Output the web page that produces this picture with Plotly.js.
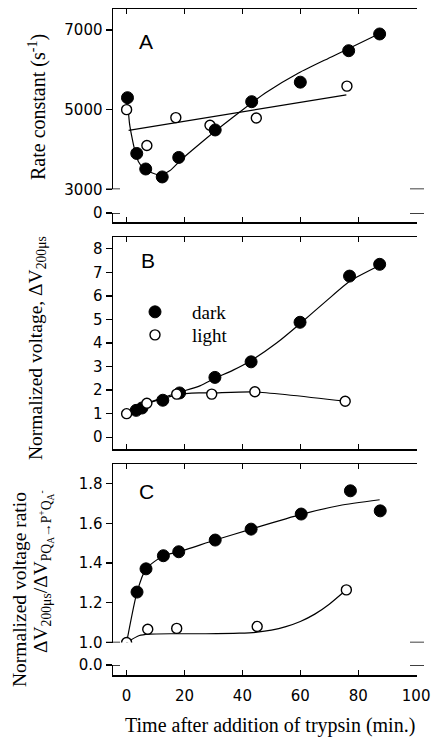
<!DOCTYPE html>
<html>
<head>
<meta charset="utf-8">
<script src="https://cdn.plot.ly/plotly-3.0.1.min.js"></script>
<style>html,body{margin:0;padding:0;background:#fff;}#chart{width:431px;height:738px;}</style>
</head>
<body>
<div id="chart"></div>
<script>
// ---------------- data ----------------
// Panel A: rate constant (s^-1)
const aDarkT = [0.3, 3.5, 6.6, 12.3, 18, 30.6, 43.2, 60, 76.7, 87.4];
const aDarkV = [5300, 3900, 3510, 3310, 3800, 4490, 5200, 5690, 6480, 6900];
const aLightT = [0, 7, 17, 28.8, 44.8, 76.1];
const aLightV = [5000, 4100, 4800, 4610, 4790, 5590];
const aDarkFitT = [0.3, 1.0, 1.8, 2.8, 4.1, 5.9, 8.7, 11.6, 15, 18, 21, 24.9, 30.6, 36.4, 43.2, 47.9, 59.4, 70.9, 87.4];
const aDarkFitV = [5250, 4657, 4321, 3987, 3693, 3527, 3417, 3360, 3470, 3680, 3880, 4120, 4460, 4790, 5170, 5420, 5920, 6330, 6910];
const aLightFitT = [0.7, 75.9];
const aLightFitV = [4480, 5370];

// Panel B: normalized voltage dV200us
const bDarkT = [3.3, 5.3, 12.5, 18.3, 30.5, 43, 59.9, 77, 87.4];
const bDarkV = [1.14, 1.24, 1.57, 1.88, 2.54, 3.2, 4.88, 6.84, 7.34];
const bLightT = [0, 7, 17.3, 29.4, 44.3, 75.5];
const bLightV = [1.0, 1.44, 1.83, 1.83, 1.93, 1.53];
const bDarkFitT = [0, 4.1, 11.1, 18, 25.3, 30.5, 36.8, 42.9, 51.8, 59.9, 69.1, 77.2, 87.5];
const bDarkFitV = [1.0, 1.3, 1.62, 1.9, 2.18, 2.5, 2.85, 3.25, 4.0, 4.82, 5.8, 6.63, 7.3];
const bLightFitT = [0, 7, 17.3, 25, 29.4, 44.3, 75.5];
const bLightFitV = [1.0, 1.42, 1.8, 1.88, 1.88, 1.92, 1.53];

// Panel C: normalized voltage ratio
const cDarkT = [3.6, 6.7, 12.7, 18, 30.6, 43, 60.3, 77.3, 87.6];
const cDarkV = [1.254, 1.371, 1.437, 1.457, 1.516, 1.571, 1.647, 1.764, 1.663];
const cLightT = [0, 7.3, 17.3, 45.1, 75.9];
const cLightV = [1.0, 1.067, 1.071, 1.081, 1.265];
const cDarkFitT = [0, 3.6, 6.7, 12.7, 18, 30.6, 43, 60.3, 73.6, 87.4];
const cDarkFitV = [1.0, 1.254, 1.371, 1.437, 1.457, 1.516, 1.571, 1.645, 1.69, 1.719];
const cLightFitT = [0, 4.4, 7.8, 15.9, 27.4, 39, 45.1, 50, 55, 60, 65, 70, 75.6];
const cLightFitV = [1.0, 1.035, 1.042, 1.044, 1.044, 1.047, 1.052, 1.062, 1.08, 1.106, 1.143, 1.193, 1.262];

// tick labels
const xTicks = [0, 20, 40, 60, 80, 100];
const aTicks = [3000, 5000, 7000];
const bTicks = [0, 1, 2, 3, 4, 5, 6, 7, 8];
const cTicks = [1.0, 1.2, 1.4, 1.6, 1.8];
const legendNames = ['dark', 'light'];

// ---------------- layout helpers ----------------
const W = 431, Hh = 738, ML = 113, MR = 14, MT = 9, MB = 63;
const PB = Hh - MB, PH = Hh - MT - MB, PW = W - ML - MR;
const fy = p => (PB - p) / PH;       // pixel row -> paper fraction
const fx = p => (p - ML) / PW;       // pixel col -> paper fraction
const xr = [-4.7, 100.3];

const black = '#000';
const sans = {family: 'DejaVu Sans, Arial, sans-serif', size: 15, color: black};
const serif = 'Liberation Serif, Times New Roman, serif';

function ax(extra) {
  return Object.assign({
    showgrid: false, zeroline: false, showline: true, linecolor: black, linewidth: 1.5,
    tickcolor: black, tickwidth: 1.3, tickfont: sans, fixedrange: true
  }, extra);
}

const lineStyle = {color: black, width: 1.2, shape: 'spline', smoothing: 0.6};
const darkMarker = {symbol: 'circle', size: 12, color: black, line: {color: black, width: 1}};
const lightMarkerFill = {symbol: 'circle', size: 10, color: '#fff', line: {color: black, width: 1.4}};

function fit(t, v, xa, ya) {
  return {x: t, y: v, xaxis: xa, yaxis: ya, mode: 'lines', line: lineStyle, showlegend: false, hoverinfo: 'skip'};
}
function pts(t, v, xa, ya, marker, name, legendId) {
  const tr = {x: t, y: v, xaxis: xa, yaxis: ya, mode: 'markers', marker: marker, name: name, showlegend: !!legendId, hoverinfo: 'skip'};
  if (legendId) tr.legend = legendId;
  return tr;
}

const traces = [
  fit(aDarkFitT, aDarkFitV, 'x', 'y'),
  fit(aLightFitT, aLightFitV, 'x', 'y'),
  pts(aLightT, aLightV, 'x', 'y', lightMarkerFill, legendNames[1]),
  pts(aDarkT, aDarkV, 'x', 'y', darkMarker, legendNames[0]),

  fit(bDarkFitT, bDarkFitV, 'x3', 'y5'),
  fit(bLightFitT, bLightFitV, 'x3', 'y5'),
  pts(bDarkT, bDarkV, 'x3', 'y5', darkMarker, legendNames[0], 'legend'),
  pts(bLightT, bLightV, 'x3', 'y5', lightMarkerFill, legendNames[1], 'legend2'),

  fit(cDarkFitT, cDarkFitV, 'x4', 'y7'),
  fit(cLightFitT, cLightFitV, 'x4', 'y7'),
  pts(cLightT, cLightV, 'x4', 'y7', lightMarkerFill, legendNames[1]),
  pts(cDarkT, cDarkV, 'x4', 'y7', darkMarker, legendNames[0])
];

const dAup = [fy(189.3), fy(MT)];
const dAlo = [fy(222), fy(213)];
const dB = [fy(449), fy(237)];
const dCup = [fy(642.5), fy(464)];
const dClo = [0, fy(665)];

const capHalf = 7 / PW;
function caps(yref, yv) {
  return [
    {type: 'line', xref: 'paper', yref: yref, x0: -capHalf, x1: capHalf, y0: yv, y1: yv, line: {color: black, width: 1.5}},
    {type: 'line', xref: 'paper', yref: yref, x0: 1 - capHalf, x1: 1 + capHalf, y0: yv, y1: yv, line: {color: black, width: 1.5}}
  ];
}

function note(text, px, py, size, family, angle) {
  return {text: text, xref: 'paper', yref: 'paper', x: fx(px), y: fy(py), xanchor: 'center', yanchor: 'middle',
          textangle: angle || 0, showarrow: false, font: {family: family, size: size, color: black}};
}
const letterFont = 'Liberation Sans, Arial, sans-serif';
const legendStyle = {xanchor: 'left', yanchor: 'top', bgcolor: 'rgba(0,0,0,0)',
                     font: {family: serif, size: 19, color: black}, itemwidth: 64, tracegroupgap: 0};

const layout = {
  width: W, height: Hh,
  margin: {l: ML, r: MR, t: MT, b: MB, pad: 0},
  paper_bgcolor: '#fff', plot_bgcolor: 'rgba(0,0,0,0)',
  showlegend: true,
  legend: Object.assign({x: fx(118), y: fy(293)}, legendStyle),
  legend2: Object.assign({x: fx(118), y: fy(316)}, legendStyle),
  // Panel A
  xaxis: ax({anchor: 'y', side: 'top', range: xr, tickvals: xTicks.slice(0, 5), ticks: 'inside', ticklen: 5, showticklabels: false}),
  xaxis2: ax({anchor: 'y3', side: 'bottom', range: xr, tickvals: xTicks.slice(0, 5), ticks: 'inside', ticklen: 5, showticklabels: false}),
  yaxis: ax({anchor: 'x', domain: dAup, range: [3000, 7527], tickvals: aTicks, ticks: 'outside', ticklen: 6}),
  yaxis2: ax({anchor: 'x', overlaying: 'y', side: 'right', range: [3000, 7527], tickvals: aTicks.slice(1), ticks: 'inside', ticklen: 6, showticklabels: false}),
  yaxis3: ax({anchor: 'x2', domain: dAlo, range: [-1, 0], tickvals: [0], ticks: 'outside', ticklen: 6}),
  yaxis4: ax({anchor: 'x2', overlaying: 'y3', side: 'right', range: [-1, 0], tickvals: [], ticks: '', showticklabels: false}),
  // Panel B
  xaxis3: ax({anchor: 'y5', range: xr, tickvals: xTicks.slice(0, 5), ticks: 'inside', ticklen: 5, mirror: 'ticks', showticklabels: false}),
  yaxis5: ax({anchor: 'x3', domain: dB, range: [-0.5, 8.5], tickvals: bTicks, ticks: 'outside', ticklen: 6}),
  yaxis6: ax({anchor: 'x3', overlaying: 'y5', side: 'right', range: [-0.5, 8.5], tickvals: bTicks, ticks: 'inside', ticklen: 6, showticklabels: false}),
  // Panel C
  xaxis4: ax({anchor: 'y7', side: 'top', range: xr, tickvals: xTicks.slice(0, 5), ticks: 'inside', ticklen: 5, showticklabels: false}),
  xaxis5: ax({anchor: 'y9', side: 'bottom', range: xr, tickvals: xTicks, ticks: 'inside', ticklen: 5, ticklabelstandoff: 6}),
  yaxis7: ax({anchor: 'x4', domain: dCup, range: [1.0, 1.899], tickvals: cTicks, tickformat: '.1f', ticks: 'outside', ticklen: 6}),
  yaxis8: ax({anchor: 'x4', overlaying: 'y7', side: 'right', range: [1.0, 1.899], tickvals: cTicks.slice(1), ticks: 'inside', ticklen: 6, showticklabels: false}),
  yaxis9: ax({anchor: 'x5', domain: dClo, range: [-1, 0], tickvals: [0], tickformat: '.1f', ticks: 'outside', ticklen: 6}),
  yaxis10: ax({anchor: 'x5', overlaying: 'y9', side: 'right', range: [-1, 0], tickvals: [], ticks: '', showticklabels: false}),
  shapes: [].concat(caps('y', 3000), caps('y3', 0), caps('y7', 1.0), caps('y9', 0)),
  annotations: [
    note('A', 146, 41, 21, letterFont),
    note('B', 148, 260, 21, letterFont),
    note('C', 146, 491, 21, letterFont),
    note('Rate constant (s<sup>-1</sup>)', 37, 107, 20, serif, -90),
    note('Normalized voltage, ΔV<sub>200μs</sub>', 37, 348, 19.5, serif, -90),
    note('Normalized voltage ratio', 19, 590, 19.5, serif, -90),
    note('ΔV<sub>200μs</sub>/ΔV<sub>PQ<sub>A</sub>→P<sup>+</sup>Q<sub>A</sub><sup>-</sup></sub>', 43, 572, 19.5, serif, -90),
    note('Time after addition of trypsin (min.)', 270, 725, 20, serif)
  ]
};

Plotly.newPlot('chart', traces, layout, {displayModeBar: false, staticPlot: true});
</script>
</body>
</html>
